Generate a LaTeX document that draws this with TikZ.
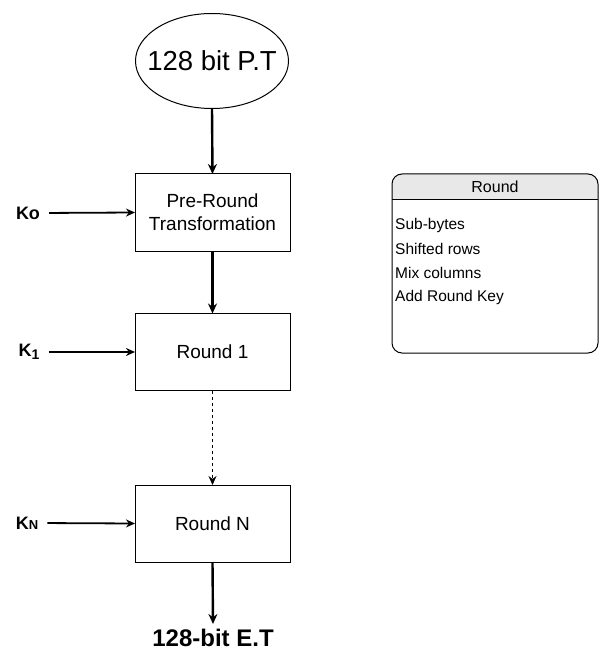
\documentclass[tikz,border=0pt]{standalone}
\usepackage{fontspec}
\setmainfont{Liberation Sans}
\usetikzlibrary{shapes.geometric,arrows.meta}

\begin{document}
\begin{tikzpicture}[x=1pt,y=-1pt,
    stage/.style={draw,line width=1pt,outer sep=0pt,minimum width=155pt,minimum height=77pt,
      align=center,font=\fontsize{19}{23}\selectfont},
    keylbl/.style={inner sep=0pt,font=\bfseries\fontsize{18}{20}\selectfont},
    flow/.style={line width=2.4pt,-{Stealth[length=10pt,width=9pt]}},
    keyin/.style={line width=1.8pt,shorten <=9pt,-{Stealth[length=9pt,width=8pt]}},
    item/.style={anchor=west,inner sep=0pt,font=\fontsize{15.5}{18}\selectfont}]
  \useasboundingbox (0,0) rectangle (599,652);

  % main chain
  \node[draw,ellipse,line width=1pt,inner xsep=-11.5pt,inner ysep=0pt,outer sep=0pt,
    minimum width=153pt,minimum height=95pt,
    font=\fontsize{27.5}{30}\selectfont] (pt) at (212,61) {128 bit P.T};
  \node[stage] (pre) at (212.5,212.5) {Pre-Round\\Transformation};
  \node[stage] (r1) at (212.5,352) {Round 1};
  \node[stage] (rn) at (212.5,523.5) {Round N};
  \node[font=\bfseries\fontsize{24}{26}\selectfont,inner sep=0pt] (et) at (213,638) {128-bit E.T};

  \draw[flow] (pt.south) -- (pre.north);
  \draw[flow] (pre.south) -- (r1.north);
  \draw[line width=1pt,dashed,-{Stealth[length=9pt,width=8pt]}] (r1.south) -- (rn.north);
  \draw[flow] (rn.south) -- ([yshift=5pt]et.north);

  % round keys
  \node[keylbl] (k0) at (28,213) {Ko};
  \node[keylbl] (k1) at (29,352) {K\raisebox{-3.5pt}{\fontsize{14}{14}\selectfont 1}};
  \node[keylbl] (kn) at (27,523) {K{\fontsize{13}{13}\selectfont N}};

  \draw[keyin] (k0.east) -- (pre.west);
  \draw[keyin] (k1.east) -- (r1.west);
  \draw[keyin] (kn.east) -- (rn.west);

  % round table
  \begin{scope}
    \clip (392,174) rectangle (598,199);
    \fill[gray!18,rounded corners=10pt] (392,174) rectangle (598,353);
  \end{scope}
  \draw[line width=1pt,rounded corners=10pt] (392,174) rectangle (598,353);
  \draw[line width=0.8pt] (392,199) -- (598,199);

  \node[font=\fontsize{16}{18}\selectfont] (hd) at (495,187) {Round};
  \node[item] (sb) at (395,225) {Sub-bytes};
  \node[item] (sr) at (395,249) {Shifted rows};
  \node[item] (mc) at (395,273) {Mix columns};
  \node[item] (ak) at (395,297) {Add Round Key};
\end{tikzpicture}
\end{document}
